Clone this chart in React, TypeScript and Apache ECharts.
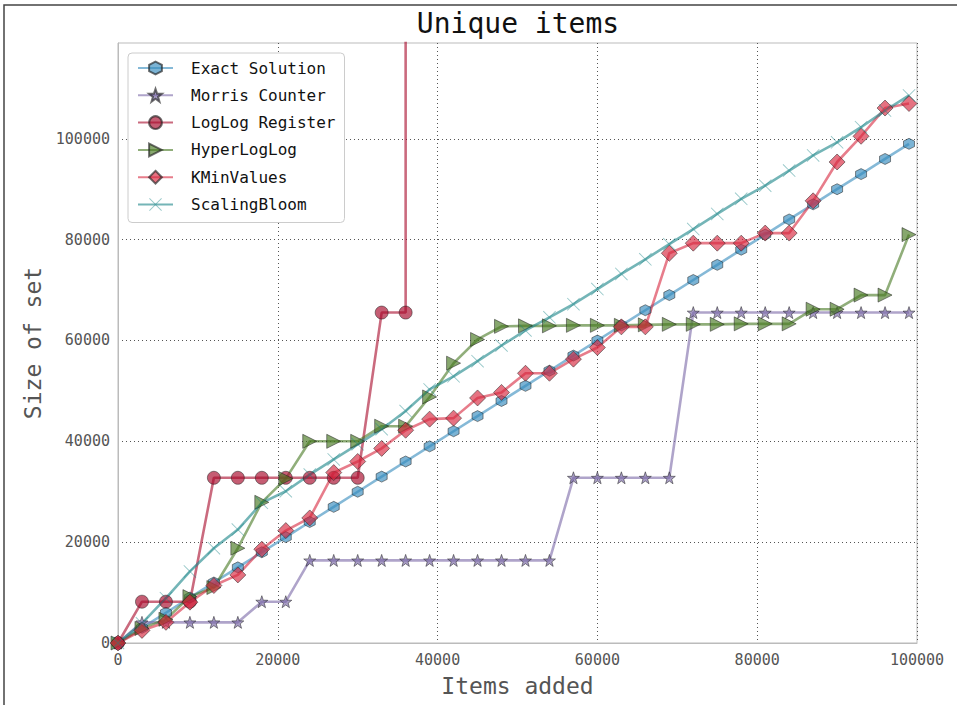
import React, { useEffect, useRef } from "react";
import * as echarts from "echarts";

const xValues = [0, 3000, 6000, 9000, 12000, 15000, 18000, 21000, 24000, 27000, 30000, 33000, 36000, 39000, 42000, 45000, 48000, 51000, 54000, 57000, 60000, 63000, 66000, 69000, 72000, 75000, 78000, 81000, 84000, 87000, 90000, 93000, 96000, 99000];

const exactSolution = [0, 3000, 6000, 9000, 12000, 15000, 18000, 21000, 24000, 27000, 30000, 33000, 36000, 39000, 42000, 45000, 48000, 51000, 54000, 57000, 60000, 63000, 66000, 69000, 72000, 75000, 78000, 81000, 84000, 87000, 90000, 93000, 96000, 99000];

const morrisCounter = [0, 4096, 4096, 4096, 4096, 4096, 8192, 8192, 16384, 16384, 16384, 16384, 16384, 16384, 16384, 16384, 16384, 16384, 16384, 32768, 32768, 32768, 32768, 32768, 65536, 65536, 65536, 65536, 65536, 65536, 65536, 65536, 65536, 65536];

const logLogRegister = [0, 8192, 8192, 8192, 32768, 32768, 32768, 32768, 32768, 32768, 32768, 65536, 65536, 4294967296, 4294967296, 4294967296, 4294967296, 4294967296, 4294967296, 4294967296, 4294967296, 4294967296, 4294967296, 4294967296, 4294967296, 4294967296, 4294967296, 4294967296, 4294967296, 4294967296, 4294967296, 4294967296, 4294967296, 4294967296];

const hyperLogLog = [0, 2900, 4700, 9200, 11000, 18800, 27900, 32600, 40000, 40000, 40000, 43000, 43000, 48800, 55500, 60200, 62800, 62900, 62900, 63000, 63000, 63000, 63100, 63200, 63200, 63200, 63300, 63300, 63300, 66200, 66200, 69000, 69000, 81000];

const kMinValues = [0, 2500, 4100, 8100, 11400, 13500, 18600, 22300, 24800, 33800, 36000, 38600, 42200, 44400, 44600, 48600, 49700, 53500, 53500, 56300, 58600, 62700, 62700, 77300, 79300, 79300, 79300, 81300, 81300, 87700, 95400, 100500, 106100, 107000];

const scalingBloom = [0, 3900, 8900, 14200, 18800, 22500, 27800, 30100, 33400, 36400, 39400, 42400, 46000, 50300, 52900, 55900, 59000, 62000, 64600, 67200, 70200, 73200, 76100, 79100, 82100, 85100, 88100, 90700, 93700, 96700, 99300, 102300, 105600, 108600];

const xTicks = [0, 20000, 40000, 60000, 80000, 100000];

const MONO = "'DejaVu Sans Mono', monospace";

const HEX = "path://M0,-10 L8.66,-5 L8.66,5 L0,10 L-8.66,5 L-8.66,-5 Z";
const STAR = "path://M0,-10 L2.35,-3.24 L9.51,-3.09 L3.8,1.24 L5.88,8.09 L0,4 L-5.88,8.09 L-3.8,1.24 L-9.51,-3.09 L-2.35,-3.24 Z";
const XMARK = "path://M-10,-9 L-9,-10 L0,-1 L9,-10 L10,-9 L1,0 L10,9 L9,10 L0,1 L-9,10 L-10,9 L-1,0 Z";

function pairs(ys: number[]) {
  return xValues.map((x, i) => [x, ys[i]]);
}

function makeSeries(
  name: string,
  ys: number[],
  color: string,
  symbol: string,
  size: number,
  extra: any = {}
) {
  return {
    name,
    type: "line",
    data: pairs(ys),
    symbol,
    symbolSize: size,
    showAllSymbol: true,
    clip: true,
    lineStyle: { color, width: 2.6, opacity: 0.6 },
    itemStyle: {
      color,
      opacity: 0.65,
      borderColor: "#222",
      borderWidth: 0.8,
      ...(extra.itemStyle || {}),
    },
    emphasis: { disabled: true },
    ...(extra.rest || {}),
  };
}

export default function App() {
  const ref = useRef<HTMLDivElement>(null);

  useEffect(() => {
    if (!ref.current) return;
    const chart = echarts.init(ref.current, null, { renderer: "svg" });
    chart.setOption({
      animation: false,
      backgroundColor: "#fff",
      title: {
        text: "Unique items",
        left: 518,
        top: 9,
        padding: 0,
        textAlign: "center",
        textStyle: { fontFamily: MONO, fontSize: 28, fontWeight: "normal", color: "#111" },
      },
      graphic: [
        {
          type: "rect",
          shape: { x: 4, y: 5, width: 1200, height: 1200 },
          style: { fill: "none", stroke: "#444", lineWidth: 1.5 },
          silent: true,
          z: 100,
        },
      ],
      legend: {
        orient: "vertical",
        left: 128,
        top: 53,
        padding: [7, 9, 10, 9],
        itemWidth: 35,
        itemHeight: 16,
        itemGap: 11.3,
        backgroundColor: "#fff",
        borderColor: "#ccc",
        borderWidth: 1,
        borderRadius: 4,
        textStyle: { fontFamily: MONO, fontSize: 16, color: "#111", lineHeight: 16, padding: [0, 0, 0, 13] },
        data: ["Exact Solution", "Morris Counter", "LogLog Register", "HyperLogLog", "KMinValues", "ScalingBloom"],
        z: 10,
      },
      grid: {
        left: 118,
        right: 40,
        top: 43,
        bottom: 62,
        show: true,
        borderColor: "#bbb",
        borderWidth: 1,
        backgroundColor: "#fff",
      },
      xAxis: {
        type: "value",
        min: xTicks[0],
        max: xTicks[xTicks.length - 1],
        interval: 20000,
        name: "Items added",
        nameLocation: "middle",
        nameGap: 31,
        nameTextStyle: { fontFamily: MONO, fontSize: 23, color: "#555" },
        axisLine: { show: true, lineStyle: { color: "#bbb", width: 1 } },
        axisTick: { show: false },
        axisLabel: { fontFamily: MONO, fontSize: 15, color: "#555", margin: 9, formatter: (v: number) => String(v) },
        splitLine: { show: true, lineStyle: { color: "#555", type: [1, 3], width: 1 } },
      },
      yAxis: {
        type: "value",
        min: 0,
        max: 119000,
        interval: 20000,
        name: "Size of set",
        nameLocation: "middle",
        nameGap: 64,
        nameTextStyle: { fontFamily: MONO, fontSize: 23, color: "#555" },
        axisLine: { show: true, lineStyle: { color: "#bbb", width: 1 } },
        axisTick: { show: false },
        axisLabel: { fontFamily: MONO, fontSize: 15, color: "#555", margin: 8, showMaxLabel: false, formatter: (v: number) => String(v) },
        splitLine: { show: true, showMaxLine: false, lineStyle: { color: "#555", type: [1, 3], width: 1 } },
      },
      series: [
        makeSeries("Exact Solution", exactSolution, "#348ABD", HEX, 11),
        makeSeries("Morris Counter", morrisCounter, "#7A68A6", STAR, 12),
        makeSeries("LogLog Register", logLogRegister, "#A60628", "circle", 13),
        makeSeries("HyperLogLog", hyperLogLog, "#467821", "triangle", 14, { rest: { symbolRotate: -90 } }),
        makeSeries("KMinValues", kMinValues, "#D7263D", "diamond", 16),
        makeSeries("ScalingBloom", scalingBloom, "#188487", XMARK, 13, {
          itemStyle: { borderWidth: 0, opacity: 0.45 },
        }),
      ],
    });
    return () => chart.dispose();
  }, []);

  return (
    <div
      ref={ref}
      style={{ position: "absolute", left: 0, top: 0, width: 957, height: 705 }}
    />
  );
}
